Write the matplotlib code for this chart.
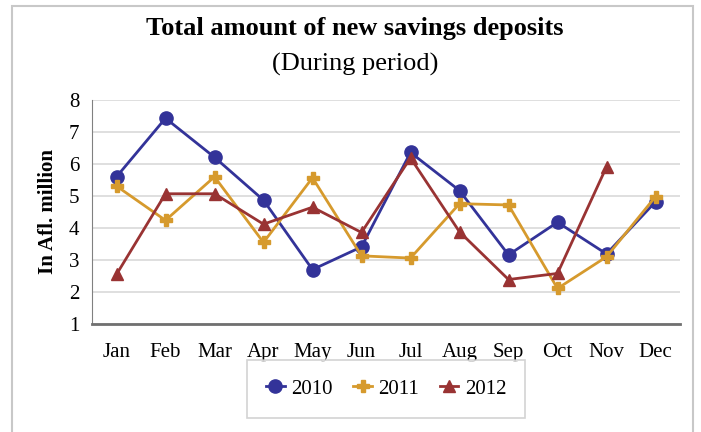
import matplotlib
matplotlib.use("Agg")
import matplotlib.pyplot as plt
from matplotlib.patches import Rectangle

months = ["Jan", "Feb", "Mar", "Apr", "May", "Jun",
          "Jul", "Aug", "Sep", "Oct", "Nov", "Dec"]
dep_2010 = [5.60, 7.43, 6.21, 4.87, 2.70, 3.41, 6.36, 5.17, 3.16, 4.18, 3.19, 4.82]
dep_2011 = [5.31, 4.24, 5.60, 3.55, 5.57, 3.13, 3.06, 4.76, 4.72, 2.11, 3.10, 4.98]
dep_2012 = [2.55, 5.07, 5.07, 4.12, 4.65, 3.86, 6.19, 3.88, 2.39, 2.58, 5.91, None]

plt.rcParams["font.family"] = ["Liberation Serif", "DejaVu Serif"]

fig = plt.figure(figsize=(7.01, 4.32), dpi=100)
W, H = 701, 432
# outer chart frame (runs off the bottom of the image)
fig.patches.append(Rectangle((12 / W, -0.05), (693 - 12) / W, 1.05 - 6 / H,
                             transform=fig.transFigure, fill=False,
                             edgecolor="#c8c8c8", linewidth=1.5))

ax = fig.add_axes([92 / W, 1 - 324 / H, (680 - 92) / W, (324 - 100) / H])

x = list(range(len(months)))
ax.plot(x, dep_2010, color="#333399", marker="o", markersize=9.5,
        linewidth=2.0, label="2010", zorder=3)
ax.plot(x, dep_2011, color="#D69A2D", marker="P", markersize=8,
        linewidth=2.0, label="2011", zorder=4)
x12 = [i for i, v in enumerate(dep_2012) if v is not None]
y12 = [v for v in dep_2012 if v is not None]
ax.plot(x12, y12, color="#993333", marker="^", markersize=8,
        linewidth=2.0, label="2012", zorder=5)

ax.set_xlim(-0.5, 11.5)
ax.set_ylim(1, 8)
ax.set_yticks(range(1, 9))
ax.set_xticks(x)
ax.set_xticklabels(months)
ax.tick_params(axis="both", length=0, labelsize=15)
ax.tick_params(axis="x", pad=14)
ax.tick_params(axis="y", pad=9)
ax.grid(axis="y", color="#d9d9d9", linewidth=1.2)
ax.set_axisbelow(True)
for s in ["top", "right"]:
    ax.spines[s].set_visible(False)
ax.spines["left"].set_color("#808080")
ax.spines["bottom"].set_color("#707070")
ax.spines["bottom"].set_linewidth(2)

ax.set_ylabel("In Afl. million", fontsize=15, fontweight="bold", labelpad=8)

fig.text(355 / W, 1 - 28 / H, "Total amount of new savings deposits",
         ha="center", va="center", fontsize=19, fontweight="bold")
fig.text(355 / W, 1 - 64 / H, "(During period)",
         ha="center", va="center", fontsize=19)

leg = fig.legend(loc="center", bbox_to_anchor=(386 / W, 1 - 389 / H),
                 ncol=3, frameon=True, fancybox=False, fontsize=15,
                 handlelength=0.9, handletextpad=0.3, columnspacing=1.0,
                 borderpad=0.9)
leg.get_frame().set_edgecolor("#c8c8c8")
leg.get_frame().set_linewidth(1.2)

fig.savefig("out.png", dpi=100)
